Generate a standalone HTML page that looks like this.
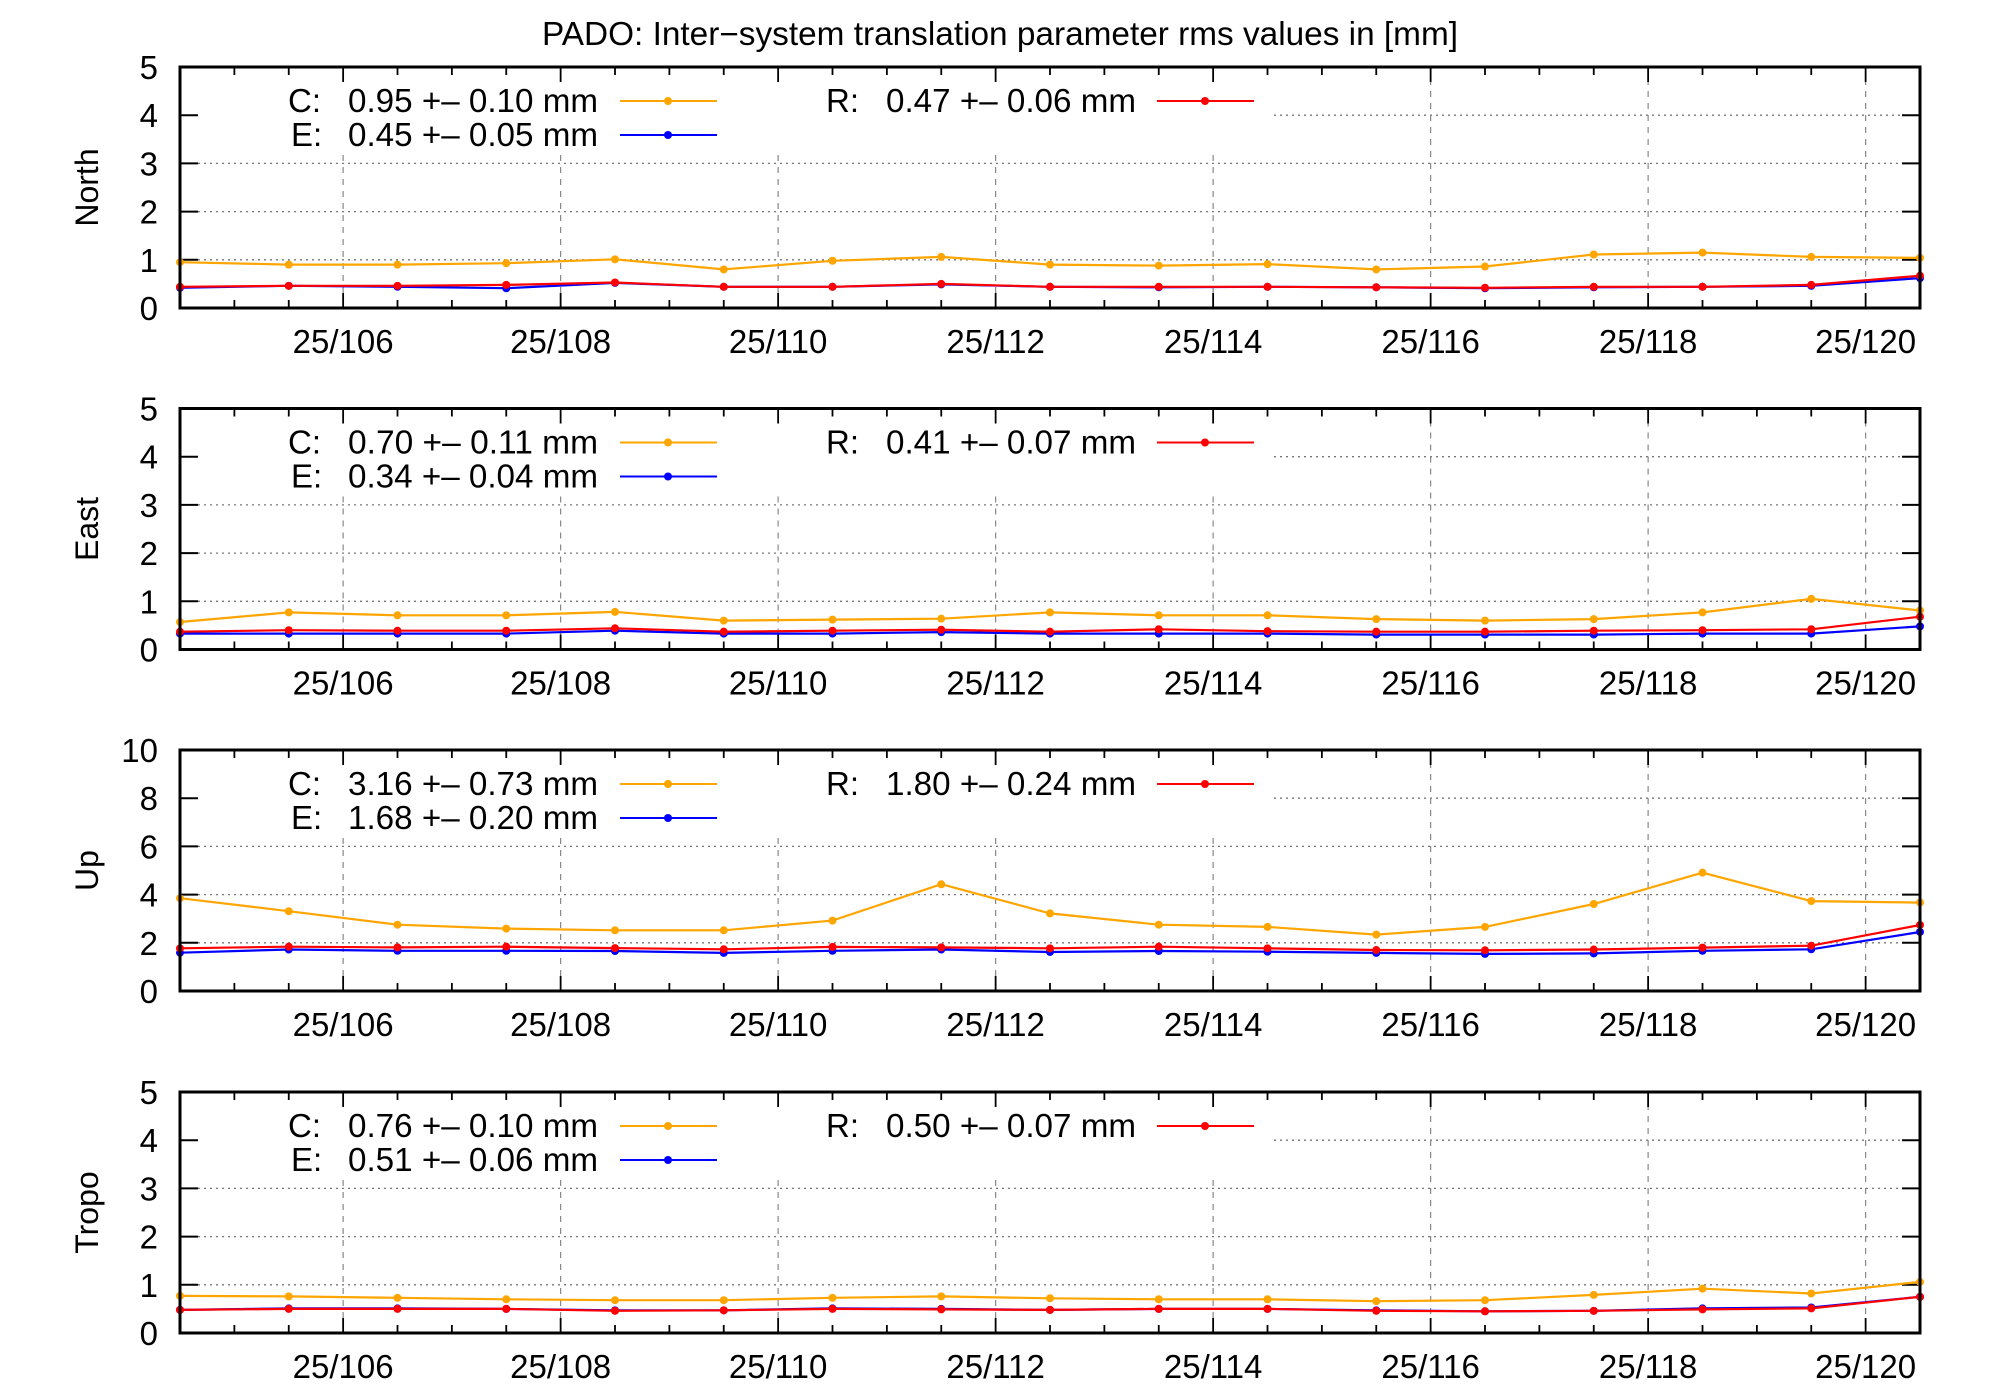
<!DOCTYPE html>
<html><head><meta charset="utf-8"><style>
html,body{margin:0;padding:0;background:#fff;}
svg{display:block;font-family:"Liberation Sans",sans-serif;}
</style></head><body>
<svg id="chart" width="2000" height="1400" viewBox="0 0 2000 1400" xmlns="http://www.w3.org/2000/svg">
<text x="1000" y="45" font-size="33" text-anchor="middle" textLength="916" lengthAdjust="spacingAndGlyphs">PADO: Inter−system translation parameter rms values in [mm]</text>
<g id="panels"></g>
</svg>
<script>
const days = [104.5,105.5,106.5,107.5,108.5,109.5,110.5,111.5,112.5,113.5,114.5,115.5,116.5,117.5,118.5,119.5,120.5];
const xTickDays = [106,108,110,112,114,116,118,120];
const xTickLabels = ["25/106","25/108","25/110","25/112","25/114","25/116","25/118","25/120"];
const panelNames = ["North","East","Up","Tropo"];
const yMaxes = [5,5,10,5];
const yTickStep = [1,1,2,1];

const northC = [0.95,0.90,0.90,0.93,1.01,0.80,0.98,1.06,0.90,0.88,0.91,0.80,0.86,1.11,1.15,1.06,1.04];
const northE = [0.42,0.46,0.44,0.41,0.52,0.44,0.44,0.49,0.44,0.43,0.44,0.43,0.41,0.43,0.44,0.46,0.62];
const northR = [0.44,0.46,0.46,0.48,0.53,0.44,0.44,0.50,0.44,0.44,0.44,0.43,0.42,0.44,0.44,0.48,0.67];
const eastC = [0.57,0.77,0.71,0.71,0.78,0.60,0.62,0.64,0.77,0.71,0.71,0.63,0.60,0.63,0.77,1.05,0.81];
const eastE = [0.33,0.33,0.33,0.33,0.39,0.33,0.33,0.36,0.33,0.33,0.33,0.31,0.31,0.31,0.33,0.33,0.48];
const eastR = [0.37,0.40,0.39,0.39,0.44,0.37,0.39,0.41,0.37,0.42,0.38,0.37,0.37,0.39,0.40,0.42,0.68];
const upC = [3.85,3.31,2.75,2.59,2.52,2.52,2.92,4.43,3.22,2.75,2.66,2.34,2.66,3.61,4.91,3.73,3.67];
const upE = [1.59,1.72,1.67,1.67,1.66,1.58,1.67,1.72,1.62,1.66,1.63,1.58,1.54,1.56,1.67,1.73,2.45];
const upR = [1.77,1.84,1.81,1.84,1.78,1.73,1.83,1.81,1.77,1.84,1.77,1.70,1.69,1.72,1.80,1.88,2.74];
const tropoC = [0.77,0.76,0.73,0.70,0.68,0.68,0.73,0.76,0.72,0.70,0.70,0.66,0.68,0.79,0.92,0.82,1.06];
const tropoE = [0.48,0.51,0.51,0.50,0.47,0.47,0.51,0.50,0.48,0.50,0.50,0.47,0.45,0.46,0.51,0.53,0.75];
const tropoR = [0.48,0.50,0.50,0.50,0.46,0.47,0.50,0.49,0.48,0.50,0.50,0.46,0.45,0.46,0.49,0.51,0.75];
const legendC = ["0.95 +– 0.10 mm","0.70 +– 0.11 mm","3.16 +– 0.73 mm","0.76 +– 0.10 mm"];
const legendE = ["0.45 +– 0.05 mm","0.34 +– 0.04 mm","1.68 +– 0.20 mm","0.51 +– 0.06 mm"];
const legendR = ["0.47 +– 0.06 mm","0.41 +– 0.07 mm","1.80 +– 0.24 mm","0.50 +– 0.07 mm"];

const seriesC = [northC,eastC,upC,tropoC];
const seriesE = [northE,eastE,upE,tropoE];
const seriesR = [northR,eastR,upR,tropoR];

const NS="http://www.w3.org/2000/svg";
const L=180,R=1920,H=241;
const tops=[67,408.5,750,1092];
const xMin=104.5,xMax=120.5;
function xs(d){return L+(d-xMin)/(xMax-xMin)*(R-L);}
function mk(tag,attrs,parent){const e=document.createElementNS(NS,tag);for(const k in attrs)e.setAttribute(k,attrs[k]);parent.appendChild(e);return e;}
const root=document.getElementById('panels');

for(let p=0;p<4;p++){
  const T=tops[p],B=T+H,ymax=yMaxes[p];
  const ys=v=>B-v/ymax*H;
  const g=mk('g',{},root);
  
  
  const legRight=1274, legBottom=T+88;
  for(let v=yTickStep[p];v<ymax;v+=yTickStep[p]){
    const y=ys(v);
    const x0=(y<legBottom)?legRight:L;
    const gl=mk('line',{x1:x0,x2:R,y1:y,y2:y,stroke:'#777','stroke-width':1.3,'stroke-dasharray':'2,4'},g);
    
    
  }
  xTickDays.forEach(d=>{
    const x=xs(d);
    const y0=(x<legRight)?legBottom:T;
    const gl=mk('line',{x1:x,x2:x,y1:y0,y2:B,stroke:'#888','stroke-width':1.2,'stroke-dasharray':'6,6'},g);
    
    
  });
  for(let d=105;d<=120.01;d+=0.5){
    const x=xs(d);const major=(Math.abs(d%2)<0.01);const len=major?15:8;
    mk('line',{x1:x,x2:x,y1:B,y2:B-len,stroke:'#000','stroke-width':1.8},g);
    mk('line',{x1:x,x2:x,y1:T,y2:T+len,stroke:'#000','stroke-width':1.8},g);
  }
  for(let v=0;v<=ymax;v+=yTickStep[p]){
    const y=ys(v);
    mk('line',{x1:L,x2:L+18,y1:y,y2:y,stroke:'#000','stroke-width':2},g);
    mk('line',{x1:R,x2:R-18,y1:y,y2:y,stroke:'#000','stroke-width':2},g);
    const t=mk('text',{x:158,y:y+12,'font-size':33,'text-anchor':'end'},g);
    t.textContent=v;
    
    
  }
  xTickDays.forEach((d,i)=>{
    const t=mk('text',{x:xs(d),y:B+45,'font-size':33,'text-anchor':'middle'},g);
    t.textContent=xTickLabels[i];
    
    
  });
  const at=mk('text',{x:0,y:0,'font-size':32,'text-anchor':'middle',transform:`translate(98,${T+H/2}) rotate(-90)`},g);
  at.textContent=panelNames[p];
  
  
  const defs=[[seriesC[p],'#ffa500','series-c'],[seriesE[p],'#0000ff','series-e'],[seriesR[p],'#ff0000','series-r']];
  defs.forEach(([arr,col,nm])=>{
    const pts=arr.map((v,i)=>xs(days[i]).toFixed(1)+','+ys(v).toFixed(1)).join(' ');
    const pl=mk('polyline',{points:pts,fill:'none',stroke:col,'stroke-width':2.2},g);
    
    
    arr.forEach((v,i)=>{
      const c=mk('circle',{cx:xs(days[i]),cy:ys(v),r:4,fill:col},g);
      
      
    });
  });
  const legItems=[['C:',legendC[p],'#ffa500',288,348,620,T+45],['E:',legendE[p],'#0000ff',291,348,620,T+79],['R:',legendR[p],'#ff0000',826,886,1157,T+45]];
  legItems.forEach(([lab,txt,col,lx,tx,sx,by])=>{
    const lg=mk('g',{},g);
    
    
    const a=mk('text',{x:lx,y:by,'font-size':33},lg);a.textContent=lab;
    const b=mk('text',{x:tx,y:by,'font-size':33,textLength:250,lengthAdjust:'spacingAndGlyphs'},lg);b.textContent=txt;
    const cy=by-11;
    mk('line',{x1:sx,x2:sx+97,y1:cy,y2:cy,stroke:col,'stroke-width':2},lg);
    mk('circle',{cx:sx+48,cy:cy,r:4,fill:col},lg);
  });
  const bd=mk('rect',{x:L,y:T,width:R-L,height:H,fill:'none',stroke:'#000','stroke-width':3},g);
  
  
}
</script>
</body></html>
